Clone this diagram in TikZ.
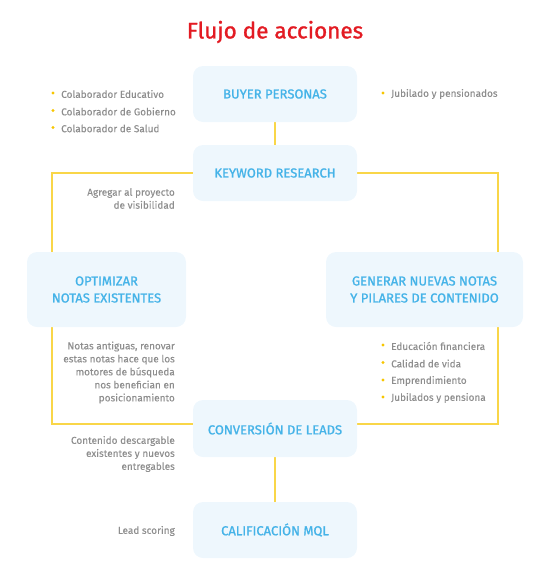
\documentclass[tikz,border=0pt]{standalone}
\usepackage{fontspec}
\setmainfont{Fira Sans}
\newfontfamily\medfont{Fira Sans}[FakeBold=1.2]
\newfontfamily\notefont{Fira Sans}[FakeBold=0.2]
\definecolor{ttl}{HTML}{E31B23}
\definecolor{boxfill}{HTML}{EEF7FD}
\definecolor{boxtxt}{HTML}{45B3E8}
\definecolor{gry}{HTML}{8E8E8E}
\definecolor{ylw}{HTML}{F9D648}
\definecolor{dot}{HTML}{F7C600}
\tikzset{
  stepbox/.style={fill=boxfill, rounded corners=10pt, text=boxtxt, align=center,
    font=\medfont\fontsize{13}{17}\selectfont, inner sep=0pt},
  note/.style={text=gry, font=\notefont\fontsize{10}{13}\selectfont, inner sep=0pt},
  rnote/.style={note, align=right, anchor=east},
  lnote/.style={note, anchor=west},
  bul/.style={circle, fill=dot, minimum size=3.4pt, inner sep=0pt},
  link/.style={draw=ylw, line width=1.5pt},
}
\begin{document}
\begin{tikzpicture}[x=1pt,y=-1pt]
\useasboundingbox (0,0) rectangle (550,574);
% connectors
\coordinate (tl) at (52,173);
\coordinate (tr) at (498,173);
\coordinate (bl) at (52,424);
\coordinate (br) at (498,424);
\node (kc) at (275,173) {};
\node (cc) at (275,424) {};
\draw[link] (kc.center) -- (tl) -- (bl) -- (cc.center);
\draw[link] (kc.center) -- (tr) -- (br) -- (cc.center);
\draw[link] (275,94) -- (275,173);
\draw[link] (275,429) -- (275,530);
% title
\node[text=ttl, font=\medfont\fontsize{22.5}{26}\selectfont] (title) at (275,32) {Flujo de acciones};
% boxes
\node[stepbox, minimum width=164pt, minimum height=56pt] (bp) at (275,94) {BUYER PERSONAS};
\node[stepbox, minimum width=164pt, minimum height=56pt] (kr) at (275,173) {KEYWORD RESEARCH};
\node[stepbox, minimum width=159pt, minimum height=75pt] (opt) at (106.5,289.5) {OPTIMIZAR\\NOTAS EXISTENTES};
\node[stepbox, minimum width=197pt, minimum height=75pt] (gen) at (424.5,289.5) {GENERAR NUEVAS NOTAS\\Y PILARES DE CONTENIDO};
\node[stepbox, minimum width=164pt, minimum height=57pt] (cl) at (275,428.5) {CONVERSIÓN DE LEADS};
\node[stepbox, minimum width=164pt, minimum height=56pt] (mql) at (275,530) {CALIFICACIÓN MQL};
% left bullet list
\node[bul] (b1) at (53,93) {};
\node[lnote] (t1) at (61,94) {Colaborador Educativo};
\node[bul] (b2) at (53,110.5) {};
\node[lnote] (t2) at (61,111.5) {Colaborador de Gobierno};
\node[bul] (b3) at (53,127.5) {};
\node[lnote] (t3) at (61,128.5) {Colaborador de Salud};
% right top bullet
\node[bul] (b4) at (383,93) {};
\node[lnote] (t4) at (391,94) {Jubilado y pensionados};
% notes
\node[rnote] (n1) at (175,198.5) {Agregar al proyecto\\de visibilidad};
\node[rnote] (n2) at (175,372.5) {Notas antiguas, renovar\\estas notas hace que los\\motores de búsqueda\\nos benefician en\\posicionamiento};
\node[rnote] (n3) at (175,454) {Contenido descargable\\existentes y nuevos\\entregables};
\node[rnote] (n4) at (175,531) {Lead scoring};
% right bullet list
\node[bul] (c1) at (383,345) {};
\node[lnote] (u1) at (391,346) {Educación financiera};
\node[bul] (c2) at (383,362.5) {};
\node[lnote] (u2) at (391,363.5) {Calidad de vida};
\node[bul] (c3) at (383,380) {};
\node[lnote] (u3) at (391,381) {Emprendimiento};
\node[bul] (c4) at (383,397) {};
\node[lnote] (u4) at (391,398) {Jubilados y pensiona};
\end{tikzpicture}
\end{document}
